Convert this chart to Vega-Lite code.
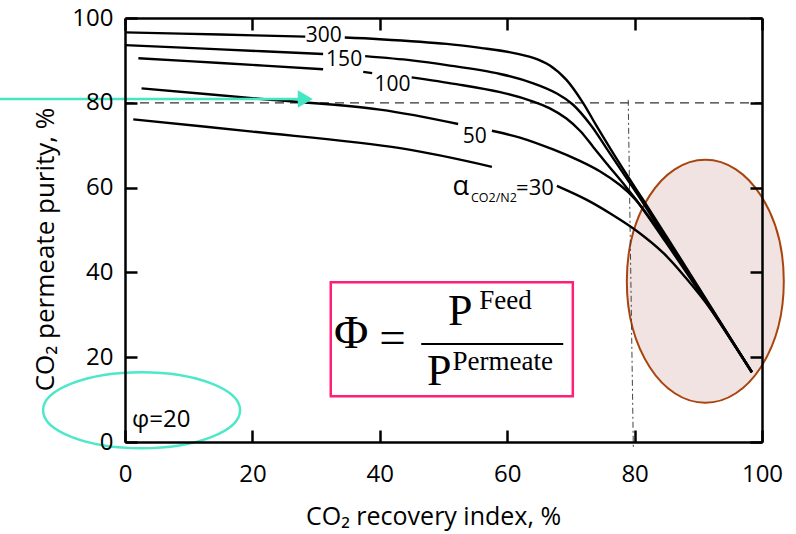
{
  "$schema": "https://vega.github.io/schema/vega-lite/v6.json",
  "width": 637,
  "height": 424,
  "autosize": {"type": "none"},
  "padding": {"left": 125, "top": 18, "right": 34, "bottom": 92},
  "background": "white",
  "config": {"view": {"stroke": null}},
  "resolve": {"axis": {"x": "independent", "y": "independent"}},
  "datasets": {
    "curves": [
      {"c": "300a", "x": 0, "y": 96.6}, {"c": "300a", "x": 15, "y": 96.1}, {"c": "300a", "x": 28.3, "y": 95.6},
      {"c": "300b", "x": 34.5, "y": 95.4}, {"c": "300b", "x": 40, "y": 95.0}, {"c": "300b", "x": 50.5, "y": 93.9},
      {"c": "300b", "x": 56, "y": 92.9}, {"c": "300b", "x": 60.5, "y": 91.9}, {"c": "300b", "x": 64.1, "y": 90.6}, {"c": "300b", "x": 66.7, "y": 88.8},
      {"c": "300b", "x": 69.3, "y": 85.4}, {"c": "300b", "x": 71.9, "y": 80.0}, {"c": "300b", "x": 74.0, "y": 74.6},
      {"c": "300b", "x": 76.6, "y": 68.2}, {"c": "300b", "x": 79.3, "y": 61.8}, {"c": "300b", "x": 81.3, "y": 57.2},
      {"c": "300b", "x": 85, "y": 48.5}, {"c": "300b", "x": 90, "y": 36.6}, {"c": "300b", "x": 98.4, "y": 16.4},

      {"c": "150a", "x": 0, "y": 93.6}, {"c": "150a", "x": 15, "y": 92.6}, {"c": "150a", "x": 31.1, "y": 91.5},
      {"c": "150b", "x": 37.7, "y": 91.0}, {"c": "150b", "x": 45, "y": 90.0}, {"c": "150b", "x": 50.5, "y": 88.9},
      {"c": "150b", "x": 58.9, "y": 86.8}, {"c": "150b", "x": 64.1, "y": 84.6}, {"c": "150b", "x": 67.8, "y": 82.2},
      {"c": "150b", "x": 70.3, "y": 79.6}, {"c": "150b", "x": 73.2, "y": 74.6}, {"c": "150b", "x": 75.7, "y": 69.0},
      {"c": "150b", "x": 78.2, "y": 63.4}, {"c": "150b", "x": 80.4, "y": 58.5}, {"c": "150b", "x": 85, "y": 47.8},
      {"c": "150b", "x": 90, "y": 36.3}, {"c": "150b", "x": 98.4, "y": 16.5},

      {"c": "100a", "x": 2.1, "y": 90.5}, {"c": "100a", "x": 15, "y": 89.4}, {"c": "100a", "x": 31.1, "y": 87.9},
      {"c": "100b", "x": 37.4, "y": 87.3}, {"c": "100b", "x": 38.8, "y": 87.0},
      {"c": "100c", "x": 45.0, "y": 86.0}, {"c": "100c", "x": 52, "y": 84.4}, {"c": "100c", "x": 58.9, "y": 82.5},
      {"c": "100c", "x": 64.1, "y": 80.3}, {"c": "100c", "x": 66.7, "y": 78.7}, {"c": "100c", "x": 69.3, "y": 76.3},
      {"c": "100c", "x": 71.5, "y": 73.3}, {"c": "100c", "x": 73.5, "y": 69.6}, {"c": "100c", "x": 75.6, "y": 65.7},
      {"c": "100c", "x": 78.2, "y": 61.0}, {"c": "100c", "x": 80.3, "y": 57.0}, {"c": "100c", "x": 85, "y": 46.9},
      {"c": "100c", "x": 90, "y": 35.8}, {"c": "100c", "x": 98.4, "y": 16.5},

      {"c": "50a", "x": 2.6, "y": 83.4}, {"c": "50a", "x": 20, "y": 81.1}, {"c": "50a", "x": 40, "y": 78.4},
      {"c": "50a", "x": 52.3, "y": 75.0},
      {"c": "50b", "x": 57.6, "y": 73.4}, {"c": "50b", "x": 62.0, "y": 71.8}, {"c": "50b", "x": 67.2, "y": 69.0},
      {"c": "50b", "x": 71.4, "y": 66.3}, {"c": "50b", "x": 74.6, "y": 63.8}, {"c": "50b", "x": 77.7, "y": 60.6},
      {"c": "50b", "x": 80, "y": 57.4}, {"c": "50b", "x": 82.5, "y": 52.6}, {"c": "50b", "x": 86, "y": 45.3}, {"c": "50b", "x": 90.5, "y": 35.0},
      {"c": "50b", "x": 98.4, "y": 16.6},

      {"c": "30a", "x": 1.3, "y": 76.1}, {"c": "30a", "x": 20, "y": 73.2}, {"c": "30a", "x": 43.2, "y": 69.3},
      {"c": "30a", "x": 57.6, "y": 64.9},
      {"c": "30b", "x": 67.8, "y": 60.4}, {"c": "30b", "x": 72.5, "y": 57.1}, {"c": "30b", "x": 76.5, "y": 53.6},
      {"c": "30b", "x": 80.5, "y": 49.6}, {"c": "30b", "x": 84.5, "y": 44.6}, {"c": "30b", "x": 88, "y": 38.8}, {"c": "30b", "x": 92, "y": 31.2},
      {"c": "30b", "x": 98.4, "y": 16.4}
    ]
  },
  "layer": [
    {
      "data": {"values": [{"x": 91.1, "y": 37.9}]},
      "mark": {"type": "point", "shape": "M-0.646,0C-0.646,-0.552,-0.357,-1,0,-1C0.357,-1,0.646,-0.552,0.646,0C0.646,0.552,0.357,1,0,1C-0.357,1,-0.646,0.552,-0.646,0Z", "size": 59049, "filled": true, "fill": "#f2e3e3", "stroke": "#a8450f", "strokeWidth": 2, "opacity": 1, "clip": false},
      "encoding": {
        "x": {"field": "x", "type": "quantitative", "scale": {"domain": [0, 100], "nice": false, "zero": false}, "axis": null},
        "y": {"field": "y", "type": "quantitative", "scale": {"domain": [0, 100], "nice": false, "zero": false}, "axis": null}
      }
    },
    {
      "data": {"values": [{"x": 0, "x2": 100, "y": 80}]},
      "mark": {"type": "rule", "color": "#333333", "strokeWidth": 1.2, "strokeDash": [9, 6]},
      "encoding": {
        "x": {"field": "x", "type": "quantitative", "scale": {"domain": [0, 100], "nice": false, "zero": false}, "axis": null},
        "x2": {"field": "x2"},
        "y": {"field": "y", "type": "quantitative", "scale": {"domain": [0, 100], "nice": false, "zero": false}, "axis": null}
      }
    },
    {
      "data": {"values": [{"x": 79.0, "x2": 79.8, "y": 80.7, "y2": -1.4}]},
      "mark": {"type": "rule", "color": "#444444", "strokeWidth": 1, "strokeDash": [6, 3, 2, 3], "clip": false},
      "encoding": {
        "x": {"field": "x", "type": "quantitative", "scale": {"domain": [0, 100], "nice": false, "zero": false}, "axis": null},
        "x2": {"field": "x2"},
        "y": {"field": "y", "type": "quantitative", "scale": {"domain": [0, 100], "nice": false, "zero": false}, "axis": null},
        "y2": {"field": "y2"}
      }
    },
    {
      "data": {"name": "curves"},
      "mark": {"type": "line", "color": "black", "strokeWidth": 2.4, "interpolate": "catmull-rom"},
      "encoding": {
        "x": {"field": "x", "type": "quantitative", "scale": {"domain": [0, 100], "nice": false, "zero": false},
          "axis": {"values": [0, 20, 40, 60, 80, 100], "tickSize": -12, "tickWidth": 2.5, "tickColor": "black", "domainColor": "black", "domainWidth": 2.5, "grid": false, "labelFont": "Open Sans", "labelFontSize": 24, "labelColor": "black", "labelPadding": 32, "labelFlush": false, "title": "CO₂ recovery index, %", "titleFont": "Open Sans", "titleFontSize": 25, "titleFontWeight": "normal", "titleColor": "black", "titlePadding": 18, "titleX": 308, "zindex": 1}},
        "y": {"field": "y", "type": "quantitative", "scale": {"domain": [0, 100], "nice": false, "zero": false},
          "axis": {"values": [0, 20, 40, 60, 80, 100], "tickSize": -12, "tickWidth": 2.5, "tickColor": "black", "domainColor": "black", "domainWidth": 2.5, "grid": false, "labelFont": "Open Sans", "labelFontSize": 24, "labelColor": "black", "labelPadding": 24, "labelFlush": false, "title": "CO₂ permeate purity, %", "titleFont": "Open Sans", "titleFontSize": 26, "titleFontWeight": "normal", "titleColor": "black", "titlePadding": 13, "titleY": 231, "zindex": 1}},
        "detail": {"field": "c"}
      }
    },
    {
      "data": {"values": [{"x": 0, "y": 0}]},
      "mark": {"type": "point", "opacity": 0},
      "encoding": {
        "x": {"field": "x", "type": "quantitative", "scale": {"domain": [0, 100], "nice": false, "zero": false},
          "axis": {"orient": "top", "values": [0, 20, 40, 60, 80, 100], "tickSize": -12, "tickWidth": 2.5, "tickColor": "black", "domainColor": "black", "domainWidth": 2.5, "grid": false, "labels": false, "title": null, "zindex": 1}},
        "y": {"field": "y", "type": "quantitative", "scale": {"domain": [0, 100], "nice": false, "zero": false},
          "axis": {"orient": "right", "values": [0, 20, 40, 60, 80, 100], "tickSize": -12, "tickWidth": 2.5, "tickColor": "black", "domainColor": "black", "domainWidth": 2.5, "grid": false, "labels": false, "title": null, "zindex": 1}}
      }
    },
    {
      "data": {"values": [{"x": 32.3, "x2": 70.3, "y": 37.7, "y2": 10.8}]},
      "mark": {"type": "rect", "fill": "white", "stroke": "#ff1f78", "strokeWidth": 2.5},
      "encoding": {
        "x": {"field": "x", "type": "quantitative", "scale": {"domain": [0, 100], "nice": false, "zero": false}, "axis": null},
        "x2": {"field": "x2"},
        "y": {"field": "y", "type": "quantitative", "scale": {"domain": [0, 100], "nice": false, "zero": false}, "axis": null},
        "y2": {"field": "y2"}
      }
    },
    {
      "data": {"values": [{"x": 46.5, "x2": 68.8, "y": 23.1}]},
      "mark": {"type": "rule", "color": "black", "strokeWidth": 2},
      "encoding": {
        "x": {"field": "x", "type": "quantitative", "scale": {"domain": [0, 100], "nice": false, "zero": false}, "axis": null},
        "x2": {"field": "x2"},
        "y": {"field": "y", "type": "quantitative", "scale": {"domain": [0, 100], "nice": false, "zero": false}, "axis": null}
      }
    },
    {
      "data": {"values": [{"x": 35.5, "y": 22.2, "t": "Φ"}, {"x": 42.0, "y": 21.0, "t": "="}]},
      "mark": {"type": "text", "font": "Liberation Serif", "fontSize": 47, "align": "center", "baseline": "alphabetic", "color": "black"},
      "encoding": {
        "x": {"field": "x", "type": "quantitative", "scale": {"domain": [0, 100], "nice": false, "zero": false}, "axis": null},
        "y": {"field": "y", "type": "quantitative", "scale": {"domain": [0, 100], "nice": false, "zero": false}, "axis": null},
        "text": {"field": "t"}
      }
    },
    {
      "data": {"values": [{"x": 50.7, "y": 27.6, "t": "P"}, {"x": 47.4, "y": 13.4, "t": "P"}]},
      "mark": {"type": "text", "font": "Liberation Serif", "fontSize": 44, "align": "left", "baseline": "alphabetic", "color": "black"},
      "encoding": {
        "x": {"field": "x", "type": "quantitative", "scale": {"domain": [0, 100], "nice": false, "zero": false}, "axis": null},
        "y": {"field": "y", "type": "quantitative", "scale": {"domain": [0, 100], "nice": false, "zero": false}, "axis": null},
        "text": {"field": "t"}
      }
    },
    {
      "data": {"values": [{"x": 55.6, "y": 31.3, "t": "Feed"}, {"x": 51.4, "y": 17.0, "t": "Permeate"}]},
      "mark": {"type": "text", "font": "Liberation Serif", "fontSize": 27, "align": "left", "baseline": "alphabetic", "color": "black"},
      "encoding": {
        "x": {"field": "x", "type": "quantitative", "scale": {"domain": [0, 100], "nice": false, "zero": false}, "axis": null},
        "y": {"field": "y", "type": "quantitative", "scale": {"domain": [0, 100], "nice": false, "zero": false}, "axis": null},
        "text": {"field": "t"}
      }
    },
    {
      "data": {"values": [{"x": 31.2, "y": 95.8, "t": "300"}, {"x": 34.4, "y": 90.0, "t": "150"}, {"x": 42.0, "y": 84.1, "t": "100"}, {"x": 54.9, "y": 71.9, "t": "50"}]},
      "mark": {"type": "text", "font": "Open Sans", "fontSize": 21, "align": "center", "baseline": "middle", "color": "black"},
      "encoding": {
        "x": {"field": "x", "type": "quantitative", "scale": {"domain": [0, 100], "nice": false, "zero": false}, "axis": null},
        "y": {"field": "y", "type": "quantitative", "scale": {"domain": [0, 100], "nice": false, "zero": false}, "axis": null},
        "text": {"field": "t"}
      }
    },
    {
      "data": {"values": [{"x": 51.4, "y": 58.3, "t": "α"}]},
      "mark": {"type": "text", "font": "Open Sans", "fontSize": 27, "align": "left", "baseline": "alphabetic", "color": "black"},
      "encoding": {
        "x": {"field": "x", "type": "quantitative", "scale": {"domain": [0, 100], "nice": false, "zero": false}, "axis": null},
        "y": {"field": "y", "type": "quantitative", "scale": {"domain": [0, 100], "nice": false, "zero": false}, "axis": null},
        "text": {"field": "t"}
      }
    },
    {
      "data": {"values": [{"x": 61.4, "y": 58.3, "t": "=30"}]},
      "mark": {"type": "text", "font": "Open Sans", "fontSize": 22, "align": "left", "baseline": "alphabetic", "color": "black"},
      "encoding": {
        "x": {"field": "x", "type": "quantitative", "scale": {"domain": [0, 100], "nice": false, "zero": false}, "axis": null},
        "y": {"field": "y", "type": "quantitative", "scale": {"domain": [0, 100], "nice": false, "zero": false}, "axis": null},
        "text": {"field": "t"}
      }
    },
    {
      "data": {"values": [{"x": 1.1, "y": 3.6, "t": "φ=20"}]},
      "mark": {"type": "text", "font": "Open Sans", "fontSize": 24, "align": "left", "baseline": "alphabetic", "color": "black"},
      "encoding": {
        "x": {"field": "x", "type": "quantitative", "scale": {"domain": [0, 100], "nice": false, "zero": false}, "axis": null},
        "y": {"field": "y", "type": "quantitative", "scale": {"domain": [0, 100], "nice": false, "zero": false}, "axis": null},
        "text": {"field": "t"}
      }
    },
    {
      "data": {"values": [{"x": 54.3, "y": 56.5, "t": "CO2/N2"}]},
      "mark": {"type": "text", "font": "Open Sans", "fontSize": 12.5, "align": "left", "baseline": "alphabetic", "color": "black"},
      "encoding": {
        "x": {"field": "x", "type": "quantitative", "scale": {"domain": [0, 100], "nice": false, "zero": false}, "axis": null},
        "y": {"field": "y", "type": "quantitative", "scale": {"domain": [0, 100], "nice": false, "zero": false}, "axis": null},
        "text": {"field": "t"}
      }
    },
    {
      "data": {"values": [{"x": -19.7, "x2": 27.5, "y": 80.9}]},
      "mark": {"type": "rule", "color": "#45e6c3", "strokeWidth": 2.5, "clip": false},
      "encoding": {
        "x": {"field": "x", "type": "quantitative", "scale": {"domain": [0, 100], "nice": false, "zero": false}, "axis": null},
        "x2": {"field": "x2"},
        "y": {"field": "y", "type": "quantitative", "scale": {"domain": [0, 100], "nice": false, "zero": false}, "axis": null}
      }
    },
    {
      "data": {"values": [{"x": 28.3, "y": 80.9}]},
      "mark": {"type": "point", "shape": "triangle-right", "size": 300, "filled": true, "color": "#45e6c3", "opacity": 1},
      "encoding": {
        "x": {"field": "x", "type": "quantitative", "scale": {"domain": [0, 100], "nice": false, "zero": false}, "axis": null},
        "y": {"field": "y", "type": "quantitative", "scale": {"domain": [0, 100], "nice": false, "zero": false}, "axis": null}
      }
    },
    {
      "data": {"values": [{"x": 2.6, "y": 7.5}]},
      "mark": {"type": "point", "shape": "M-1,0C-1,-0.213,-0.552,-0.386,0,-0.386C0.552,-0.386,1,-0.213,1,0C1,0.213,0.552,0.386,0,0.386C-0.552,0.386,-1,0.213,-1,0Z", "size": 38809, "filled": false, "stroke": "#4ce8c8", "strokeWidth": 2.5, "opacity": 1, "clip": false},
      "encoding": {
        "x": {"field": "x", "type": "quantitative", "scale": {"domain": [0, 100], "nice": false, "zero": false}, "axis": null},
        "y": {"field": "y", "type": "quantitative", "scale": {"domain": [0, 100], "nice": false, "zero": false}, "axis": null}
      }
    }
  ]
}
